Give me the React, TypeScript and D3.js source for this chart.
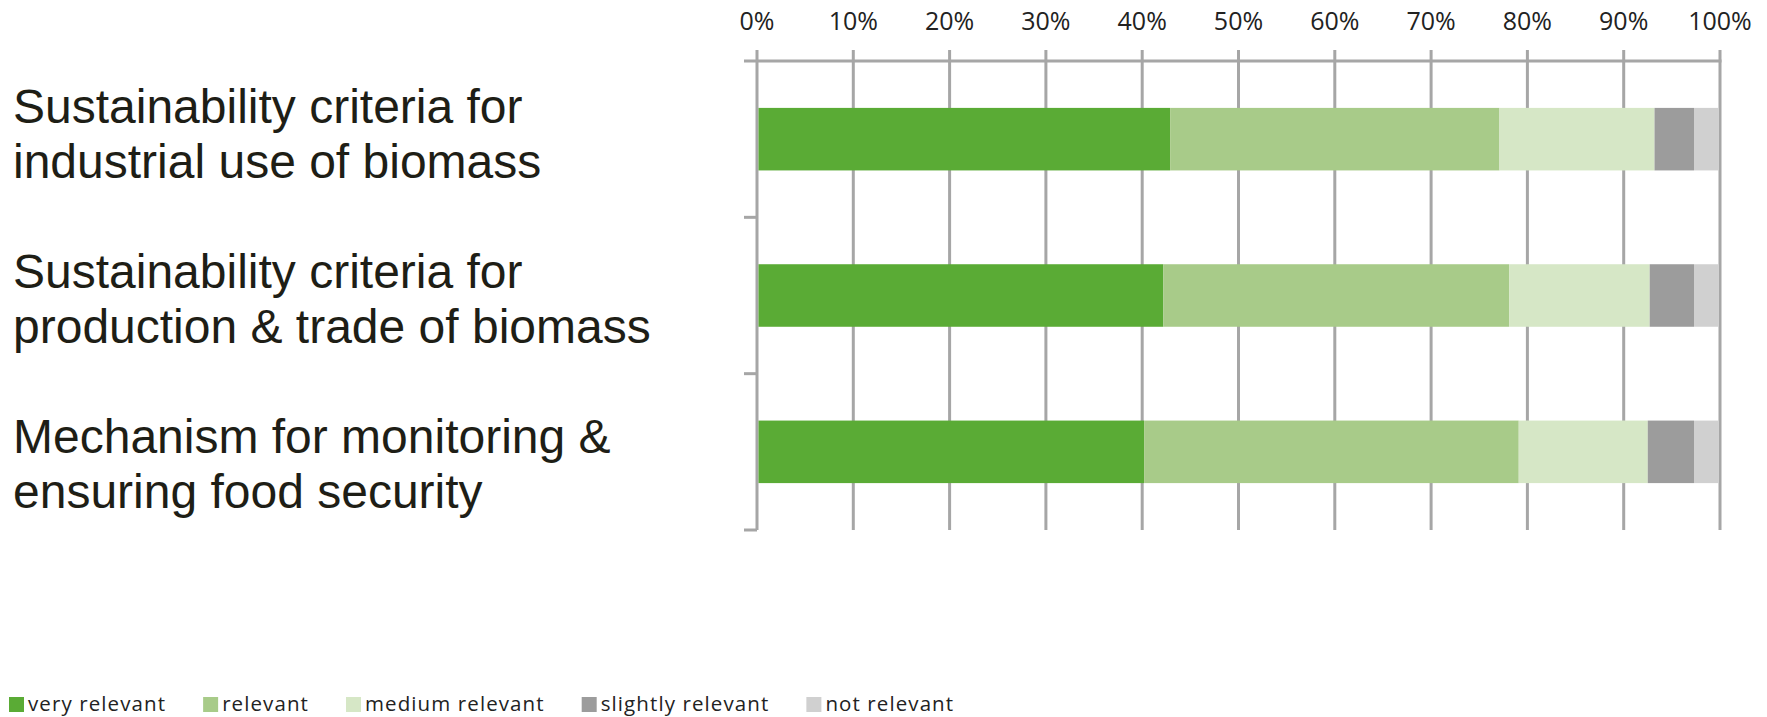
import React, { useEffect, useRef } from "react";
import * as d3 from "d3";

const categories = ["industrial", "production", "foodsecurity"];
const categoryLabels = [
  ["Sustainability criteria for", "industrial use of biomass"],
  ["Sustainability criteria for", "production & trade of biomass"],
  ["Mechanism for monitoring &", "ensuring food security"],
];
const seriesNames = ["very relevant", "relevant", "medium relevant", "slightly relevant", "not relevant"];
const veryRelevant = [42.9, 42.2, 40.2];
const relevant = [34.2, 35.9, 38.9];
const mediumRelevant = [16.1, 14.6, 13.4];
const slightlyRelevant = [4.1, 4.6, 4.8];
const notRelevant = [2.7, 2.7, 2.7];
const tickValues = [0, 10, 20, 30, 40, 50, 60, 70, 80, 90, 100];
const colors = ["#5aab35", "#a8cb89", "#d6e7c6", "#9c9c9c", "#d0d0d0"];

const W = 1767;
const H = 717;

export default function App() {
  const ref = useRef<SVGSVGElement | null>(null);

  useEffect(() => {
    const svg = d3.select(ref.current);
    svg.selectAll("*").remove();

    const x = d3.scaleLinear().domain([0, 100]).range([757, 1720]);
    const y = d3.scaleBand<string>().domain(categories).range([61, 530]).paddingInner(0.6).paddingOuter(0.3);

    const seriesArrays = [veryRelevant, relevant, mediumRelevant, slightlyRelevant, notRelevant];
    const rows = categories.map((c, i) => {
      const r: any = { cat: c };
      seriesNames.forEach((s, j) => (r[s] = seriesArrays[j][i]));
      return r;
    });
    const stacked = d3.stack<any>().keys(seriesNames)(rows);

    const grid = "#a6a6a6";
    // gridlines
    svg.append("g")
      .selectAll("line")
      .data(tickValues)
      .join("line")
      .attr("x1", (d) => x(d))
      .attr("x2", (d) => x(d))
      .attr("y1", 50)
      .attr("y2", 530)
      .attr("stroke", grid)
      .attr("stroke-width", 3);

    // top axis line
    svg.append("line")
      .attr("x1", 744).attr("x2", x(100) + 1.5)
      .attr("y1", 61).attr("y2", 61)
      .attr("stroke", grid).attr("stroke-width", 3);

    // category ticks on left
    const step = y.step();
    const catTicks = categories.map((c) => (y(c) as number) + y.bandwidth() / 2 + step / 2);
    svg.append("g")
      .selectAll("line")
      .data(catTicks)
      .join("line")
      .attr("x1", 744).attr("x2", 757)
      .attr("y1", (d) => d).attr("y2", (d) => d)
      .attr("stroke", grid).attr("stroke-width", 3);

    // bars
    svg.append("g")
      .selectAll("g")
      .data(stacked)
      .join("g")
      .attr("fill", (_d, i) => colors[i])
      .selectAll("rect")
      .data((d) => d)
      .join("rect")
      .attr("x", (d) => x(d[0]) + (d[0] === 0 ? 1.5 : 0))
      .attr("width", (d) => x(d[1]) - x(d[0]) - (d[0] === 0 ? 1.5 : 0) - (d[1] >= 99.99 ? 1.5 : 0))
      .attr("y", (d) => y(d.data.cat) as number)
      .attr("height", y.bandwidth());

    // tick labels
    svg.append("g")
      .selectAll("text")
      .data(tickValues)
      .join("text")
      .attr("x", (d) => x(d))
      .attr("y", 30)
      .attr("text-anchor", "middle")
      .attr("font-family", "'Open Sans', sans-serif")
      .attr("font-size", 25)
      .attr("fill", "#222")
      .text((d) => d + "%");

    // category labels
    const labG = svg.append("g")
      .attr("font-family", "'Liberation Sans', Arial, sans-serif")
      .attr("font-size", 48)
      .attr("fill", "#1e1e16");
    categoryLabels.forEach((lines, i) => {
      lines.forEach((ln, k) => {
        labG.append("text")
          .attr("x", 13)
          .attr("y", 123 + i * 165 + k * 55)
          .text(ln);
      });
    });

    // legend
    const legG = svg.append("g")
      .attr("font-family", "'Open Sans', sans-serif")
      .attr("font-size", 20.5)
      .attr("letter-spacing", 1.1)
      .attr("fill", "#222");
    let cx = 9;
    seriesNames.forEach((s, i) => {
      legG.append("rect")
        .attr("x", cx).attr("y", 697)
        .attr("width", 15).attr("height", 15)
        .attr("fill", colors[i]);
      const t = legG.append("text")
        .attr("x", cx + 19)
        .attr("y", 711)
        .text(s);
      const w = (t.node() as SVGTextElement).getComputedTextLength();
      cx = cx + 19 + w + 37;
    });
  }, []);

  return (
    <svg
      ref={ref}
      width={W}
      height={H}
      style={{ position: "absolute", left: 0, top: 0, background: "#fff" }}
    />
  );
}
